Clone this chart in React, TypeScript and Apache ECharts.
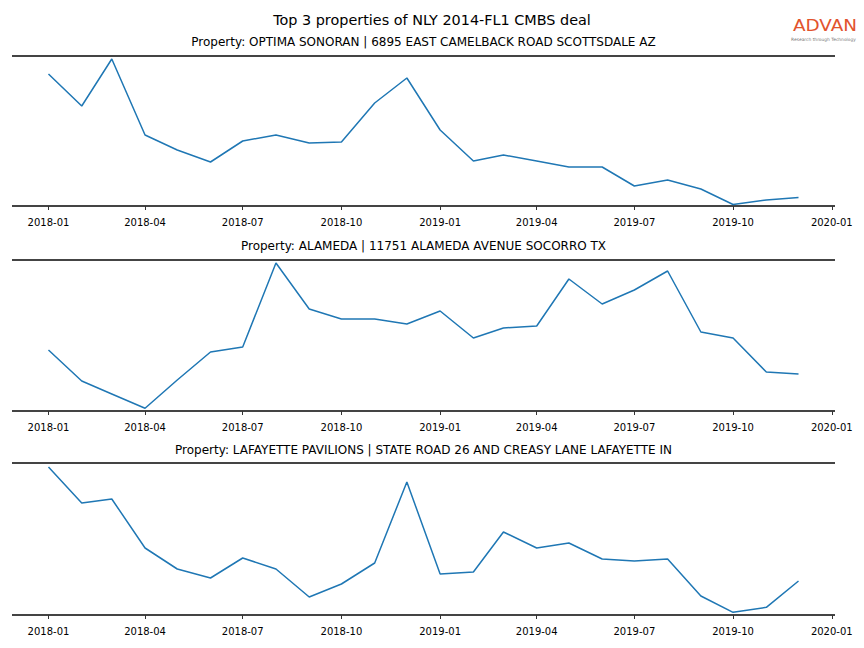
import React, { useEffect, useRef } from "react";
import * as echarts from "echarts";

const months = [
  "2018-01", "2018-02", "2018-03", "2018-04", "2018-05", "2018-06",
  "2018-07", "2018-08", "2018-09", "2018-10", "2018-11", "2018-12",
  "2019-01", "2019-02", "2019-03", "2019-04", "2019-05", "2019-06",
  "2019-07", "2019-08", "2019-09", "2019-10", "2019-11", "2019-12",
];

const tickLabels = [
  "2018-01", "2018-04", "2018-07", "2018-10", "2019-01",
  "2019-04", "2019-07", "2019-10", "2020-01",
];

const propertyTitles = [
  "Property: OPTIMA SONORAN | 6895 EAST CAMELBACK ROAD SCOTTSDALE AZ",
  "Property: ALAMEDA | 11751 ALAMEDA AVENUE SOCORRO TX",
  "Property: LAFAYETTE PAVILIONS | STATE ROAD 26 AND CREASY LANE LAFAYETTE IN",
];

const optimaValues = [132, 100, 147, 71, 56, 44, 65, 71, 63, 64, 103, 128, 76, 45, 51, 45, 39, 39, 20, 26, 17, 1.5, 6, 8.5];
const alamedaValues = [61, 30, 17, 2.7, 31, 59, 64, 148, 102, 92, 92, 87, 100, 73, 83, 85, 132, 107, 121, 140, 79, 73, 39, 37];
const lafayetteValues = [148, 112, 116, 67, 46, 37, 57, 46, 18, 31, 52, 133, 41, 43, 83, 67, 72, 56, 54, 56, 19, 2.7, 7.7, 34];

const yMaxes = [150, 151, 152];

const DAY = 86400000;
const ts = (s: string) => Date.UTC(+s.slice(0, 4), +s.slice(5, 7) - 1, 1);
const fmt = (v: number) => {
  const d = new Date(v);
  const m = d.getUTCMonth() + 1;
  return d.getUTCFullYear() + "-" + (m < 10 ? "0" + m : "" + m);
};

export default function App() {
  const ref = useRef<HTMLDivElement>(null);
  useEffect(() => {
    document.body.style.margin = "0";
    if (!ref.current) return;
    const chart = echarts.init(ref.current, null, { renderer: "svg" });
    const seriesValues = [optimaValues, alamedaValues, lafayetteValues];
    const tops = [56, 260, 463];
    const titleYs = [42, 246, 450];
    const tickVals = tickLabels.map(ts);
    const font = "DejaVu Sans";
    const xMin = ts(months[0]) - 34 * DAY;
    const xMax = ts(months[months.length - 1]) + 34 * DAY;

    const option: any = {
      animation: false,
      backgroundColor: "#ffffff",
      grid: tops.map((t, i) => ({ left: 12, right: 29, top: t, height: yMaxes[i] })),
      xAxis: tops.map((_, i) => ({
        type: "value",
        gridIndex: i,
        min: xMin,
        max: xMax,
        offset: 5,
        axisLine: { show: false },
        splitLine: { show: false },
        axisTick: {
          show: true,
          length: 4,
          customValues: tickVals,
          lineStyle: { color: "#333", width: 1 },
        },
        axisLabel: {
          customValues: tickVals,
          formatter: (v: number) => fmt(v),
          fontSize: 10,
          color: "#000",
          margin: 6,
          fontFamily: font,
        },
      })),
      yAxis: tops.map((_, i) => ({
        type: "value",
        gridIndex: i,
        min: 0,
        max: yMaxes[i],
        interval: yMaxes[i],
        axisLine: { show: false },
        axisTick: { show: false },
        axisLabel: { show: false },
        splitLine: { show: true, lineStyle: { color: "#444", width: 2 } },
      })),
      series: seriesValues.map((vals, i) => ({
        type: "line",
        xAxisIndex: i,
        yAxisIndex: i,
        showSymbol: false,
        silent: true,
        lineStyle: { color: "#1f77b4", width: 1.5 },
        data: months.map((m, j) => [ts(m), vals[j]]),
      })),
      graphic: [
        {
          type: "text",
          x: 432,
          y: 19.5,
          style: {
            text: "Top 3 properties of NLY 2014-FL1 CMBS deal",
            fontSize: 14.4,
            fontFamily: font,
            fill: "#000",
            align: "center",
            verticalAlign: "middle",
          },
        },
        ...propertyTitles.map((t, i) => ({
          type: "text",
          x: 423.5,
          y: titleYs[i],
          style: {
            text: t,
            fontSize: 12,
            fontFamily: font,
            fill: "#000",
            align: "center",
            verticalAlign: "middle",
          },
        })),
        {
          type: "text",
          x: 825,
          y: 25.5,
          scaleX: 1.15,
          style: {
            text: "ADVAN",
            fontSize: 16,
            fontFamily: font,
            fill: "#e2532d",
            align: "center",
            verticalAlign: "middle",
          },
        },
        {
          type: "text",
          x: 823.5,
          y: 39,
          style: {
            text: "Research through Technology",
            fontSize: 4.4,
            fontFamily: font,
            fill: "#777",
            align: "center",
            verticalAlign: "middle",
          },
        },
      ],
    };
    chart.setOption(option);
    return () => chart.dispose();
  }, []);
  return <div ref={ref} style={{ width: 864, height: 648 }} />;
}
